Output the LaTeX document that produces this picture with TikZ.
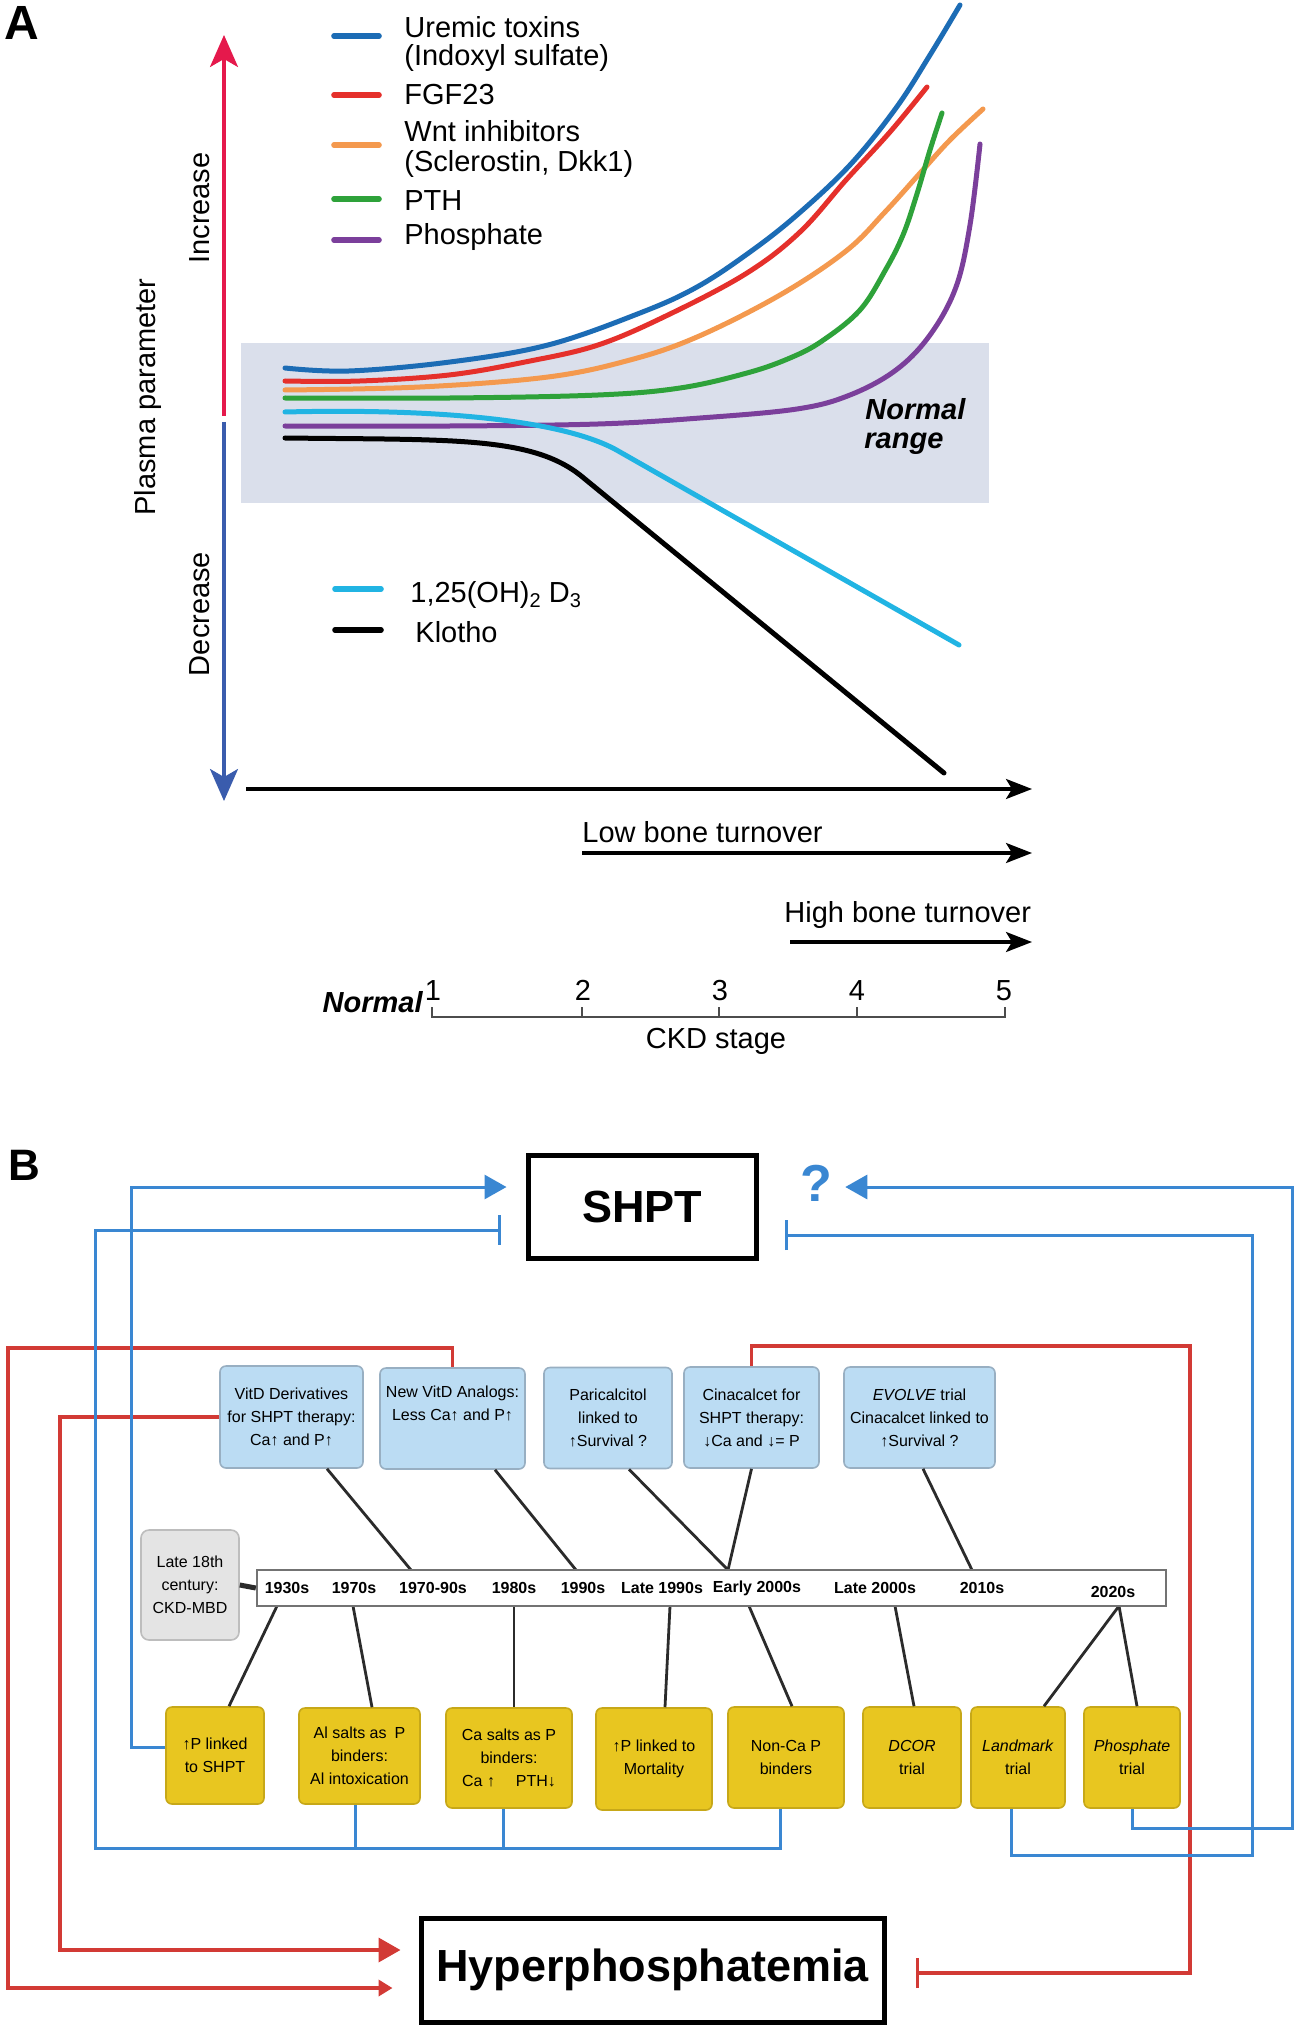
\documentclass[tikz,border=0pt]{standalone}
\usepackage{fontspec}
\setmainfont{Liberation Sans}
\usetikzlibrary{arrows.meta}
\definecolor{incred}{HTML}{E5194C}
\definecolor{decblue}{HTML}{3A5CAD}
\definecolor{cUre}{HTML}{1C6CB5}
\definecolor{cFgf}{HTML}{E5302B}
\definecolor{cWnt}{HTML}{F4994E}
\definecolor{cPth}{HTML}{2EA23A}
\definecolor{cPho}{HTML}{7B3F9B}
\definecolor{cVitd}{HTML}{21B4E3}
\definecolor{normbg}{HTML}{DADFEB}
\definecolor{bline}{HTML}{3A87D2}
\definecolor{rline}{HTML}{D23A35}
\definecolor{bbox}{HTML}{BBDCF3}
\definecolor{bboxd}{HTML}{98AFC2}
\definecolor{ybox}{HTML}{E8C620}
\definecolor{yboxd}{HTML}{C7A818}
\definecolor{gbox}{HTML}{E4E4E4}
\definecolor{gboxd}{HTML}{BDBDBD}
\definecolor{connc}{HTML}{2B2B2B}
\newcommand{\mysub}[1]{\raisebox{-0.35ex}{\fontsize{10}{10}\selectfont #1}}
\begin{document}
\begin{tikzpicture}[x=0.5pt,y=-0.5pt,
  curve/.style={line width=2.5pt,line cap=round},
  leg/.style={line width=2.8pt,line cap=round},
  txtA/.style={font=\fontsize{14.5}{13.5}\selectfont,inner sep=0pt},
  txtAbi/.style={font=\fontsize{14.5}{13.5}\selectfont\bfseries\itshape,inner sep=0pt},
  bluebox/.style={draw=bboxd,fill=bbox,rounded corners=3pt,line width=0.8pt,align=center,font=\fontsize{8}{11.5}\selectfont,inner sep=1pt},
  yelbox/.style={draw=yboxd,fill=ybox,rounded corners=3pt,line width=0.8pt,align=center,font=\fontsize{8}{11.5}\selectfont,inner sep=1pt},
  graybox/.style={draw=gboxd,fill=gbox,rounded corners=4pt,line width=0.8pt,align=center,font=\fontsize{8}{11.5}\selectfont,inner sep=1pt},
  hbox/.style={draw=black,line width=2.5pt,fill=white,font=\bfseries\fontsize{22.5}{27}\selectfont},
  tlab/.style={font=\bfseries\fontsize{8}{9}\selectfont,inner sep=0pt},
  conn/.style={draw=connc,line width=1.4pt},
  bl/.style={draw=bline,line width=1.5pt},
  rl/.style={draw=rline,line width=1.8pt}
]
\useasboundingbox (0,0) rectangle (1298,2032);
\fill[white] (0,0) rectangle (1298,2032);

% ================= Panel A =================
\node[anchor=base west,font=\bfseries\fontsize{24}{24}\selectfont,inner sep=0pt] (labA) at (4,40) {A};

\fill[normbg] (241,343) rectangle (989,503);

\draw[incred,line width=1.6pt,-{Stealth[length=16pt,width=14pt,inset=4pt]}] (224,416) -- (224,35);
\draw[decblue,line width=1.6pt,-{Stealth[length=16pt,width=14pt,inset=4pt]}] (224,422) -- (224,801);
\node[txtA,rotate=90] (inc) at (200,208) {Increase};
\node[txtA,rotate=90] (dec) at (200,614) {Decrease};
\node[txtA,rotate=90] (plasma) at (148,397) {Plasma parameter};

% legend
\draw[leg,cUre] (334,36) -- (379,36);
\draw[leg,cFgf] (334,95) -- (379,95);
\draw[leg,cWnt] (334,145) -- (379,145);
\draw[leg,cPth] (334,199) -- (379,199);
\draw[leg,cPho] (334,240) -- (379,240);
\node[txtA,anchor=base west] (lg1a) at (404,38) {Uremic toxins};
\node[txtA,anchor=base west] (lg1b) at (404,66) {(Indoxyl sulfate)};
\node[txtA,anchor=base west] (lg2) at (404,105) {FGF23};
\node[txtA,anchor=base west] (lg3a) at (404,142) {Wnt inhibitors};
\node[txtA,anchor=base west] (lg3b) at (404,172) {(Sclerostin, Dkk1)};
\node[txtA,anchor=base west] (lg4) at (404,211) {PTH};
\node[txtA,anchor=base west] (lg5) at (404,245) {Phosphate};

\draw[leg,cVitd] (335,589) -- (381,589);
\draw[leg,black] (335,630) -- (381,630);
\node[txtA,anchor=base west] (lg6) at (410,602) {1,25(OH)\mysub{2} D\mysub{3}};
\node[txtA,anchor=base west] (lg7) at (415,642) {Klotho};

% curves
\draw[curve,cUre] plot[smooth,tension=0.6] coordinates {(285,368) (349,371) (450,362) (548,345) (640,313) (697,287) (750,252) (797,215) (850,165) (896,108) (930,55) (960,5)};
\draw[curve,cFgf] plot[smooth,tension=0.6] coordinates {(285,381) (360,381) (449,375) (525,362) (598,345) (670,314) (747,273) (800,232) (846,180) (890,132) (927,87)};
\draw[curve,cWnt] plot[smooth,tension=0.6] coordinates {(285,390) (420,387) (548,377) (630,360) (697,337) (780,295) (846,251) (885,212) (921,172) (950,140) (983,109)};
\draw[curve,cPth] plot[smooth,tension=0.6] coordinates {(285,398) (450,398) (598,395) (680,388) (747,373) (790,358) (822,341) (860,310) (886,269) (903,235) (916,197) (930,150) (942,113)};
\draw[curve,cPho] plot[smooth,tension=0.6] coordinates {(285,426) (450,426) (598,424) (700,418) (797,409) (850,395) (896,370) (930,335) (956,287) (970,225) (980,144)};
\draw[curve,cVitd] (285,412) .. controls (450,408) and (570,422) .. (620,452) -- (959,645);
\draw[curve,black] (285,438) .. controls (450,440) and (530,436) .. (580,475) -- (944,773);

\node[txtAbi,anchor=base west] (nr1) at (865,420) {Normal};
\node[txtAbi,anchor=base west] (nr2) at (864,449) {range};

% axes
\draw[line width=1.6pt,-{Stealth[length=13pt,width=10pt,inset=3pt]}] (246,789) -- (1032,789);
\node[txtA,anchor=base west] (low) at (582,842) {Low bone turnover};
\draw[line width=1.6pt,-{Stealth[length=13pt,width=10pt,inset=3pt]}] (582,853) -- (1032,853);
\node[txtA,anchor=base west] (high) at (784,922) {High bone turnover};
\draw[line width=1.6pt,-{Stealth[length=13pt,width=10pt,inset=3pt]}] (790,942) -- (1032,942);

\draw[line width=1pt,black!70] (432,1007) -- (432,1017) -- (1005,1017) -- (1005,1007);
\foreach \xx in {582,719,857} {\draw[line width=1pt,black!70] (\xx,1007) -- (\xx,1017);}
\node[txtA,anchor=base] (n1) at (433,1000) {1};
\node[txtA,anchor=base] (n2) at (583,1000) {2};
\node[txtA,anchor=base] (n3) at (720,1000) {3};
\node[txtA,anchor=base] (n4) at (857,1000) {4};
\node[txtA,anchor=base] (n5) at (1004,1000) {5};
\node[txtAbi,anchor=base east] (nrm) at (423,1012) {Normal};
\node[txtA,anchor=base] (ckd) at (716,1048) {CKD stage};

% ================= Panel B =================
\node[anchor=base west,font=\bfseries\fontsize{22}{22}\selectfont,inner sep=0pt] (labB) at (8,1180) {B};

\node[hbox,minimum width=114pt,minimum height=51.5pt] (shpt) at (642,1206.5) {SHPT};
\node[hbox,minimum width=231.5pt,minimum height=52pt] (hyp) at (652.5,1970) {Hyperphosphatemia};
\node[text=bline,font=\bfseries\fontsize{26}{30}\selectfont,inner sep=2pt] (qm) at (816,1183) {?};

% boxes (upper row)
\node[bluebox,minimum width=71.5pt,minimum height=51pt] (vd) at (291.5,1417) {VitD Derivatives\\for SHPT therapy:\\Ca↑ and P↑};
\node[bluebox,minimum width=72.5pt,minimum height=50.5pt] (nv) at (452.5,1418.5) {New VitD Analogs:\\Less Ca↑ and P↑\\[4pt]};
\node[bluebox,minimum width=64pt,minimum height=50.5pt] (pc) at (608,1418) {Paricalcitol\\linked to\\↑Survival ?};
\node[bluebox,minimum width=67.5pt,minimum height=50.5pt] (cc) at (751.5,1417.5) {Cinacalcet for\\SHPT therapy:\\↓Ca and ↓= P};
\node[bluebox,minimum width=75.5pt,minimum height=50.5pt] (ev) at (919.5,1417.5) {\textit{EVOLVE} trial\\Cinacalcet linked to\\↑Survival ?};

% lower row
\node[yelbox,minimum width=49pt,minimum height=48.5pt] (p1) at (215,1755.5) {↑P linked\\to SHPT};
\node[yelbox,minimum width=60.5pt,minimum height=48pt] (al) at (359.5,1756) {Al salts as\enspace P\\binders:\\Al intoxication};
\node[yelbox,minimum width=63pt,minimum height=50pt] (ca) at (509,1758) {Ca salts as P\\binders:\\Ca ↑\hspace{1.3em}PTH↓};
\node[yelbox,minimum width=58pt,minimum height=51pt] (mo) at (654,1759) {↑P linked to\\Mortality};
\node[yelbox,minimum width=58pt,minimum height=50.5pt] (nc) at (786,1757.5) {Non-Ca P\\binders};
\node[yelbox,minimum width=49pt,minimum height=50.5pt] (dc) at (912,1757.5) {\textit{DCOR}\\trial};
\node[yelbox,minimum width=47pt,minimum height=50.5pt] (lm) at (1018,1757.5) {\textit{Landmark}\\trial};
\node[yelbox,minimum width=48pt,minimum height=50.5pt] (pt) at (1132,1757.5) {\textit{Phosphate}\\trial};

\node[graybox,minimum width=49pt,minimum height=55pt] (late) at (190,1585) {Late 18th\\century:\\CKD-MBD};

% junction coordinates on the timeline
\coordinate (ja) at (411,1570);
\coordinate (jb) at (576,1570);
\coordinate (jc) at (728,1570);
\coordinate (jd) at (972,1570);
\coordinate (ka) at (277,1606);
\coordinate (kb) at (353,1606);
\coordinate (kc) at (514,1606);
\coordinate (kd) at (670,1606);
\coordinate (ke) at (749,1606);
\coordinate (kf) at (895,1606);
\coordinate (kg) at (1119,1606);

% timeline connectors
\draw[conn] ([xshift=17.75pt]vd.south) -- (ja);
\draw[conn] ([xshift=21.25pt]nv.south) -- (jb);
\draw[conn] ([xshift=10.5pt]pc.south) -- (jc);
\draw[conn] (cc.south) -- (jc);
\draw[conn] ([xshift=1.75pt]ev.south) -- (jd);
\draw[conn] (ka) -- ([xshift=7pt]p1.north);
\draw[conn] (kb) -- ([xshift=6.25pt]al.north);
\draw[conn] (kc) -- ([xshift=2.5pt]ca.north);
\draw[conn] (kd) -- ([xshift=5.5pt]mo.north);
\draw[conn] (ke) -- ([xshift=3pt]nc.north);
\draw[conn] (kf) -- ([xshift=1pt]dc.north);
\draw[conn] (kg) -- ([xshift=13pt]lm.north);
\draw[conn] (kg) -- ([xshift=2.5pt]pt.north);

\node[draw=black!55,line width=1.2pt,fill=white,minimum width=454.5pt,minimum height=18pt,inner sep=0pt] (tl) at (711.5,1588) {};
\draw[connc,line width=2.5pt] (late.east) -- (tl.west);

\node[tlab] (y1) at (287,1588) {1930s};
\node[tlab] (y2) at (354,1588) {1970s};
\node[tlab] (y3) at (433,1588) {1970-90s};
\node[tlab] (y4) at (514,1588) {1980s};
\node[tlab] (y5) at (583,1588) {1990s};
\node[tlab] (y6) at (662,1588) {Late 1990s};
\node[tlab] (y7) at (757,1588) {Early 2000s};
\node[tlab] (y8) at (875,1588) {Late 2000s};
\node[tlab] (y9) at (982,1588) {2010s};
\node[tlab] (y10) at (1113,1592) {2020s};

% red feedback lines
\coordinate (rt1) at (8,1348);
\coordinate (rt2) at (8,1988);
\draw[rl,-{Triangle[length=7pt,width=8pt]},shorten >=13pt] (nv.north) |- (rt1) -- (rt2) -- (rt2 -| hyp.west);
\coordinate (rm1) at (60,1950);
\draw[rl,-{Triangle[length=11pt,width=12pt]},shorten >=9pt] (vd.west) -| (rm1) -- (rm1 -| hyp.west);
\coordinate (rr1) at (1190,1346);
\coordinate (rr2) at (1190,1973);
\draw[rl,-{Bar[width=15pt]},shorten >=14.5pt] (cc.north) |- (rr1) -- (rr2) -- (rr2 -| hyp.east);

% blue feedback lines
\coordinate (p1W) at ([yshift=4.25pt]p1.west);
\coordinate (bA) at (131,1187);
\draw[bl,-{Triangle[length=11pt,width=12pt]},shorten >=9.5pt] (p1W) -| (bA) -- (bA -| shpt.west);

\coordinate (busL) at (95,1848);
\coordinate (inL) at (95,1230);
\coordinate (alS) at ([xshift=-2pt]al.south);
\coordinate (caS) at ([xshift=-3pt]ca.south);
\coordinate (ncS) at ([xshift=-3pt]nc.south);
\draw[bl] (alS) -- (alS |- busL);
\draw[bl] (caS) -- (caS |- busL);
\draw[bl,-{Bar[width=15pt]},shorten >=12.5pt] (ncS) |- (busL) -- (inL) -- (inL -| shpt.west);

\coordinate (lmS) at ([xshift=-3.5pt]lm.south);
\coordinate (rB1) at (1252,1855);
\coordinate (rB2) at (1252,1235);
\draw[bl,-{Bar[width=15pt]},shorten >=13pt] (lmS) |- (rB1) -- (rB2) -- (rB2 -| shpt.east);

\coordinate (rA1) at (1292,1828);
\coordinate (rA2) at (1292,1187);
\draw[bl,-{Triangle[length=11pt,width=12pt]},shorten >=4.5pt] (pt.south) |- (rA1) -- (rA2) -- (rA2 -| qm.east);

\end{tikzpicture}
\end{document}
